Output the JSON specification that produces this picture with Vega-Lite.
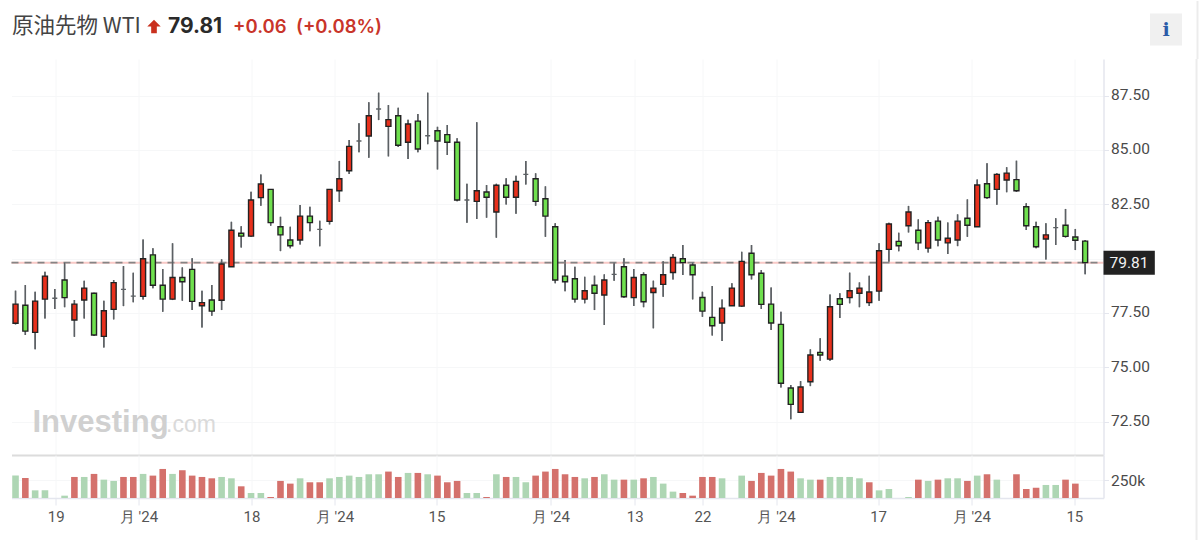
{"$schema":"https://vega.github.io/schema/vega-lite/v6.json","background":"white","padding":{"left":10.5,"top":0,"right":0,"bottom":0},"bounds":"flush","spacing":0,
"config":{"view":{"stroke":null},"axis":{"labelFont":"Roboto","labelFontSize":15.5,"labelColor":"#4a4a4a","tickColor":"#e4e6ee","domainColor":"#e4e6ee","gridColor":"#f6f7f8","title":null}},
"datasets":{"candles":[
{"i":1,"o":77.02,"h":78.52,"l":76.97,"c":77.9,"d":"r"},{"i":2,"o":77.85,"h":78.78,"l":76.48,"c":76.66,"d":"g"},{"i":3,"o":76.6,"h":78.47,"l":75.83,"c":78.04,"d":"r"},{"i":4,"o":78.13,"h":79.39,"l":77.24,"c":79.19,"d":"r"},{"i":5,"o":78.17,"h":78.6,"l":77.68,"c":78.17,"d":"f"},{"i":6,"o":79.01,"h":79.81,"l":77.76,"c":78.2,"d":"g"},{"i":7,"o":77.17,"h":78.09,"l":76.4,"c":77.9,"d":"r"},{"i":8,"o":78.09,"h":78.98,"l":77.24,"c":78.64,"d":"r"},{"i":9,"o":78.4,"h":78.42,"l":76.43,"c":76.48,"d":"g"},{"i":10,"o":76.42,"h":78.06,"l":75.91,"c":77.6,"d":"r"},
{"i":11,"o":77.66,"h":79.01,"l":77.2,"c":78.89,"d":"r"},{"i":12,"o":78.58,"h":79.65,"l":77.81,"c":78.58,"d":"f"},{"i":13,"o":78.27,"h":79.35,"l":77.99,"c":78.27,"d":"f"},{"i":14,"o":78.26,"h":80.88,"l":78.12,"c":79.99,"d":"r"},{"i":15,"o":80.17,"h":80.47,"l":78.63,"c":78.77,"d":"g"},{"i":16,"o":78.77,"h":79.52,"l":77.55,"c":78.13,"d":"g"},{"i":17,"o":78.13,"h":80.7,"l":78.09,"c":79.13,"d":"r"},{"i":18,"o":79.13,"h":79.59,"l":78.06,"c":78.93,"d":"g"},{"i":19,"o":79.5,"h":80.01,"l":77.63,"c":78.03,"d":"g"},{"i":20,"o":77.83,"h":78.52,"l":76.83,"c":77.97,"d":"r"},
{"i":21,"o":78.09,"h":78.78,"l":77.37,"c":77.58,"d":"g"},{"i":22,"o":78.08,"h":79.96,"l":77.63,"c":79.75,"d":"r"},{"i":23,"o":79.62,"h":81.69,"l":79.61,"c":81.3,"d":"r"},{"i":24,"o":81.16,"h":81.48,"l":80.51,"c":81.03,"d":"g"},{"i":25,"o":81.03,"h":83.07,"l":81.0,"c":82.69,"d":"r"},{"i":26,"o":82.8,"h":83.87,"l":82.43,"c":83.43,"d":"r"},{"i":27,"o":83.18,"h":83.2,"l":81.51,"c":81.65,"d":"g"},{"i":28,"o":81.46,"h":81.92,"l":80.34,"c":81.09,"d":"g"},{"i":29,"o":80.85,"h":81.46,"l":80.47,"c":80.59,"d":"g"},{"i":30,"o":80.85,"h":82.46,"l":80.65,"c":81.95,"d":"r"},
{"i":31,"o":81.95,"h":82.38,"l":81.26,"c":81.65,"d":"g"},{"i":32,"o":81.34,"h":81.74,"l":80.57,"c":81.34,"d":"f"},{"i":33,"o":81.71,"h":83.2,"l":81.57,"c":83.18,"d":"r"},{"i":34,"o":83.12,"h":84.49,"l":82.61,"c":83.67,"d":"r"},{"i":35,"o":84.04,"h":85.45,"l":83.89,"c":85.16,"d":"r"},{"i":36,"o":85.41,"h":86.22,"l":84.89,"c":85.41,"d":"f"},{"i":37,"o":85.64,"h":87.19,"l":84.64,"c":86.57,"d":"r"},{"i":38,"o":86.88,"h":87.63,"l":86.37,"c":86.88,"d":"f"},{"i":39,"o":86.08,"h":87.06,"l":84.7,"c":86.39,"d":"r"},{"i":40,"o":86.57,"h":86.94,"l":85.13,"c":85.21,"d":"g"},
{"i":41,"o":85.35,"h":86.39,"l":84.58,"c":86.19,"d":"r"},{"i":42,"o":86.32,"h":86.65,"l":84.89,"c":85.04,"d":"g"},{"i":43,"o":85.65,"h":87.63,"l":85.26,"c":85.65,"d":"f"},{"i":44,"o":85.88,"h":86.06,"l":84.1,"c":85.41,"d":"g"},{"i":45,"o":85.7,"h":86.14,"l":84.76,"c":85.35,"d":"g"},{"i":46,"o":85.35,"h":85.53,"l":82.63,"c":82.69,"d":"g"},{"i":47,"o":82.69,"h":83.44,"l":81.65,"c":82.69,"d":"f"},{"i":48,"o":82.63,"h":86.27,"l":81.82,"c":83.12,"d":"r"},{"i":49,"o":83.06,"h":83.38,"l":81.88,"c":82.82,"d":"g"},{"i":50,"o":82.14,"h":83.44,"l":80.96,"c":83.37,"d":"r"},
{"i":51,"o":83.37,"h":83.69,"l":82.49,"c":82.82,"d":"g"},{"i":52,"o":82.82,"h":83.81,"l":82.06,"c":83.55,"d":"r"},{"i":53,"o":83.87,"h":84.49,"l":83.41,"c":83.87,"d":"f"},{"i":54,"o":83.67,"h":83.92,"l":82.43,"c":82.63,"d":"g"},{"i":55,"o":82.75,"h":83.32,"l":81.0,"c":81.95,"d":"g"},{"i":56,"o":81.46,"h":81.62,"l":78.86,"c":79.01,"d":"g"},{"i":57,"o":79.19,"h":79.93,"l":78.49,"c":78.93,"d":"g"},{"i":58,"o":79.07,"h":79.62,"l":77.98,"c":78.13,"d":"g"},{"i":59,"o":78.13,"h":79.16,"l":77.94,"c":78.52,"d":"r"},{"i":60,"o":78.77,"h":79.21,"l":77.63,"c":78.4,"d":"g"},
{"i":61,"o":78.32,"h":79.27,"l":76.94,"c":79.01,"d":"r"},{"i":62,"o":79.27,"h":79.81,"l":78.98,"c":79.27,"d":"f"},{"i":63,"o":79.62,"h":80.01,"l":78.2,"c":78.24,"d":"g"},{"i":64,"o":78.2,"h":79.52,"l":77.81,"c":79.13,"d":"r"},{"i":65,"o":79.25,"h":79.36,"l":77.76,"c":78.01,"d":"g"},{"i":66,"o":78.44,"h":78.98,"l":76.79,"c":78.64,"d":"r"},{"i":67,"o":78.81,"h":79.88,"l":78.24,"c":79.25,"d":"r"},{"i":68,"o":79.36,"h":80.21,"l":79.04,"c":80.05,"d":"r"},{"i":69,"o":79.99,"h":80.62,"l":79.24,"c":79.81,"d":"g"},{"i":70,"o":79.7,"h":79.81,"l":78.12,"c":79.25,"d":"g"},
{"i":71,"o":78.21,"h":78.47,"l":77.32,"c":77.58,"d":"g"},{"i":72,"o":77.29,"h":78.73,"l":76.46,"c":76.91,"d":"g"},{"i":73,"o":77.03,"h":78.12,"l":76.21,"c":77.72,"d":"r"},{"i":74,"o":77.83,"h":78.86,"l":77.81,"c":78.64,"d":"r"},{"i":75,"o":77.81,"h":80.31,"l":77.78,"c":79.87,"d":"r"},{"i":76,"o":80.24,"h":80.62,"l":79.04,"c":79.25,"d":"g"},{"i":77,"o":79.32,"h":79.47,"l":77.68,"c":77.89,"d":"g"},{"i":78,"o":77.9,"h":78.67,"l":76.71,"c":77.03,"d":"g"},{"i":79,"o":76.97,"h":77.55,"l":74.07,"c":74.26,"d":"g"},{"i":80,"o":74.04,"h":74.18,"l":72.6,"c":73.29,"d":"g"},
{"i":81,"o":72.92,"h":74.36,"l":72.9,"c":74.09,"d":"r"},{"i":82,"o":74.33,"h":75.82,"l":74.13,"c":75.56,"d":"r"},{"i":83,"o":75.68,"h":76.33,"l":75.3,"c":75.56,"d":"g"},{"i":84,"o":75.37,"h":78.35,"l":75.3,"c":77.78,"d":"r"},{"i":85,"o":78.15,"h":78.4,"l":77.26,"c":77.89,"d":"g"},{"i":86,"o":78.2,"h":79.35,"l":77.94,"c":78.52,"d":"r"},{"i":87,"o":78.4,"h":78.9,"l":77.76,"c":78.64,"d":"r"},{"i":88,"o":77.97,"h":79.21,"l":77.81,"c":78.46,"d":"r"},{"i":89,"o":78.5,"h":80.7,"l":78.06,"c":80.36,"d":"r"},{"i":90,"o":80.42,"h":81.65,"l":79.85,"c":81.59,"d":"r"},
{"i":91,"o":80.79,"h":81.19,"l":80.34,"c":80.59,"d":"g"},{"i":92,"o":81.51,"h":82.42,"l":81.2,"c":82.14,"d":"r"},{"i":93,"o":81.3,"h":81.8,"l":80.39,"c":80.72,"d":"g"},{"i":94,"o":80.48,"h":81.77,"l":80.28,"c":81.65,"d":"r"},{"i":95,"o":81.72,"h":81.92,"l":80.57,"c":80.85,"d":"g"},{"i":96,"o":80.72,"h":81.66,"l":80.21,"c":80.93,"d":"r"},{"i":97,"o":80.85,"h":82.03,"l":80.57,"c":81.72,"d":"r"},{"i":98,"o":81.85,"h":82.72,"l":81.0,"c":81.53,"d":"g"},{"i":99,"o":81.46,"h":83.64,"l":81.45,"c":83.38,"d":"r"},{"i":100,"o":83.44,"h":84.38,"l":82.75,"c":82.8,"d":"g"},
{"i":101,"o":83.18,"h":83.92,"l":82.47,"c":83.87,"d":"r"},{"i":102,"o":83.61,"h":84.2,"l":83.05,"c":83.93,"d":"r"},{"i":103,"o":83.63,"h":84.5,"l":83.06,"c":83.12,"d":"g"},{"i":104,"o":82.38,"h":82.54,"l":81.31,"c":81.51,"d":"g"},{"i":105,"o":81.46,"h":81.69,"l":80.47,"c":80.54,"d":"g"},{"i":106,"o":80.9,"h":81.62,"l":79.96,"c":81.09,"d":"r"},{"i":107,"o":81.42,"h":81.85,"l":80.62,"c":81.42,"d":"f"},{"i":108,"o":81.53,"h":82.28,"l":80.97,"c":81.02,"d":"g"},{"i":109,"o":80.99,"h":81.36,"l":80.39,"c":80.84,"d":"g"},{"i":110,"o":80.8,"h":80.85,"l":79.28,"c":79.81,"d":"g"}
],
"volume":[
{"i":1,"v":316000,"d":"g"},{"i":2,"v":283000,"d":"r"},{"i":3,"v":108000,"d":"g"},{"i":4,"v":108000,"d":"g"},{"i":6,"v":33000,"d":"g"},{"i":7,"v":297000,"d":"r"},{"i":8,"v":297000,"d":"g"},{"i":9,"v":340000,"d":"r"},{"i":10,"v":259000,"d":"g"},{"i":11,"v":241000,"d":"g"},{"i":12,"v":297000,"d":"r"},{"i":13,"v":297000,"d":"r"},{"i":14,"v":340000,"d":"g"},{"i":15,"v":316000,"d":"r"},{"i":16,"v":410000,"d":"r"},{"i":17,"v":340000,"d":"g"},{"i":18,"v":392000,"d":"r"},{"i":19,"v":316000,"d":"r"},{"i":20,"v":297000,"d":"r"},{"i":21,"v":278000,"d":"r"},{"i":22,"v":297000,"d":"g"},{"i":23,"v":278000,"d":"g"},{"i":24,"v":165000,"d":"r"},{"i":25,"v":71000,"d":"g"},{"i":26,"v":71000,"d":"g"},{"i":27,"v":14000,"d":"r"},{"i":28,"v":241000,"d":"r"},{"i":29,"v":203000,"d":"r"},{"i":30,"v":278000,"d":"g"},{"i":31,"v":222000,"d":"r"},{"i":32,"v":222000,"d":"r"},{"i":33,"v":278000,"d":"g"},{"i":34,"v":297000,"d":"g"},{"i":35,"v":316000,"d":"g"},{"i":36,"v":297000,"d":"g"},{"i":37,"v":335000,"d":"g"},{"i":38,"v":335000,"d":"g"},{"i":39,"v":373000,"d":"r"},{"i":40,"v":297000,"d":"r"},{"i":41,"v":354000,"d":"g"},{"i":42,"v":354000,"d":"r"},{"i":43,"v":335000,"d":"g"},{"i":44,"v":316000,"d":"r"},{"i":45,"v":222000,"d":"r"},{"i":46,"v":241000,"d":"r"},{"i":47,"v":71000,"d":"g"},{"i":48,"v":71000,"d":"g"},{"i":49,"v":14000,"d":"r"},{"i":50,"v":335000,"d":"g"},{"i":51,"v":297000,"d":"r"},{"i":52,"v":297000,"d":"g"},{"i":53,"v":222000,"d":"g"},{"i":54,"v":316000,"d":"r"},{"i":55,"v":373000,"d":"r"},{"i":56,"v":410000,"d":"r"},{"i":57,"v":335000,"d":"r"},{"i":58,"v":297000,"d":"r"},{"i":59,"v":278000,"d":"g"},{"i":60,"v":297000,"d":"r"},{"i":61,"v":335000,"d":"g"},{"i":62,"v":259000,"d":"g"},{"i":63,"v":259000,"d":"r"},{"i":64,"v":259000,"d":"g"},{"i":65,"v":278000,"d":"r"},{"i":66,"v":297000,"d":"g"},{"i":67,"v":203000,"d":"g"},{"i":68,"v":90000,"d":"g"},{"i":69,"v":71000,"d":"r"},{"i":70,"v":33000,"d":"r"},{"i":71,"v":297000,"d":"r"},{"i":72,"v":297000,"d":"r"},{"i":73,"v":278000,"d":"g"},{"i":75,"v":316000,"d":"g"},{"i":76,"v":241000,"d":"r"},{"i":77,"v":354000,"d":"r"},{"i":78,"v":316000,"d":"r"},{"i":79,"v":410000,"d":"r"},{"i":80,"v":373000,"d":"r"},{"i":81,"v":278000,"d":"g"},{"i":82,"v":259000,"d":"g"},{"i":83,"v":259000,"d":"r"},{"i":84,"v":297000,"d":"g"},{"i":85,"v":297000,"d":"g"},{"i":86,"v":297000,"d":"g"},{"i":87,"v":278000,"d":"g"},{"i":88,"v":222000,"d":"r"},{"i":89,"v":108000,"d":"g"},{"i":90,"v":127000,"d":"g"},{"i":92,"v":14000,"d":"g"},{"i":93,"v":259000,"d":"r"},{"i":94,"v":241000,"d":"g"},{"i":95,"v":259000,"d":"r"},{"i":96,"v":278000,"d":"g"},{"i":97,"v":278000,"d":"g"},{"i":98,"v":241000,"d":"r"},{"i":99,"v":316000,"d":"g"},{"i":100,"v":335000,"d":"r"},{"i":101,"v":259000,"d":"g"},{"i":103,"v":335000,"d":"r"},{"i":104,"v":127000,"d":"r"},{"i":105,"v":146000,"d":"r"},{"i":106,"v":184000,"d":"g"},{"i":107,"v":184000,"d":"g"},{"i":108,"v":259000,"d":"r"},{"i":109,"v":203000,"d":"r"}
],
"last":[{"i0":0.59,"i1":111.87,"i2":117.1,"ix":114.47,"p":79.81,"top":80.36,"bot":79.25,"t":"79.81"}],
"mark":[{"iw":2.73,"ic":16.34,"p":72.43,"t":"Investing","t2":".com"}],
"edge":[{"i":121.35}]},
"vconcat":[
{"width":1188,"height":58,"data":{"values":[{}]},"layer":[
{"mark":{"type":"text","align":"left","baseline":"middle","font":"Noto Sans CJK JP","fontSize":21.5,"color":"#444444"},"encoding":{"x":{"value":0.5},"y":{"value":25.5},"text":{"value":"原油先物 WTI"}}},
{"mark":{"type":"point","filled":true,"size":180,"opacity":1,"color":"#c9301e","shape":"M0,-1 L1,0 L0.42,0 L0.42,1 L-0.42,1 L-0.42,0 L-1,0 Z"},"encoding":{"x":{"value":142.5},"y":{"value":25.5}}},
{"mark":{"type":"text","align":"left","baseline":"middle","font":"Inter","fontWeight":700,"fontSize":21,"color":"#2a2a2a"},"encoding":{"x":{"value":156.5},"y":{"value":25.5},"text":{"value":"79.81"}}},
{"mark":{"type":"text","align":"left","baseline":"middle","font":"Inter","fontWeight":600,"fontSize":18.5,"color":"#c9352a"},"encoding":{"x":{"value":221.5},"y":{"value":25.5},"text":{"value":"+0.06"}}},
{"mark":{"type":"text","align":"left","baseline":"middle","font":"Inter","fontWeight":600,"fontSize":18.5,"color":"#c9352a"},"encoding":{"x":{"value":284.5},"y":{"value":25.5},"text":{"value":"(+0.08%)"}}},
{"mark":{"type":"point","filled":true,"shape":"square","size":1024,"opacity":1,"color":"#f0f0f0"},"encoding":{"x":{"value":1154.5},"y":{"value":28.5}}},
{"mark":{"type":"text","align":"center","baseline":"middle","font":"DejaVu Serif","fontWeight":700,"fontSize":19,"color":"#2b5ba8"},"encoding":{"x":{"value":1154.5},"y":{"value":29},"text":{"value":"i"}}},
{"mark":{"type":"rule","color":"#ececec","strokeWidth":2},"encoding":{"x":{"value":1186}}}
]},
{"width":1092,"height":396,"layer":[
{"data":{"name":"candles"},"mark":{"type":"rule","strokeWidth":1.4,"color":"#5c6064"},"encoding":{
"x":{"field":"i","type":"quantitative","scale":{"domain":[0.59,111.87],"nice":false,"zero":false,"padding":0},"axis":{"values":[5.1,13.53,25.05,33.5,43.9,55.5,64.1,71,78.5,88.9,98.4,108.9],"labels":false,"ticks":false,"grid":true,"domainColor":"#dcdcdc","domainWidth":2}},
"y":{"field":"h","type":"quantitative","scale":{"domain":[70.96,89.18],"nice":false,"zero":false},"axis":{"orient":"right","values":[72.5,75,77.5,80,82.5,85,87.5],"labelExpr":"datum.value === 80 ? '' : format(datum.value, '.2f')","labelOffset":-1,"grid":true,"tickSize":5,"domainWidth":1.5,"labelPadding":2}},
"y2":{"field":"l"}}},
{"data":{"name":"mark"},"mark":{"type":"text","align":"left","baseline":"middle","font":"Liberation Sans","fontWeight":700,"fontSize":31,"color":"#d0d0d0"},"encoding":{"x":{"field":"iw","type":"quantitative"},"y":{"field":"p","type":"quantitative"},"text":{"field":"t"}}},
{"data":{"name":"mark"},"mark":{"type":"text","align":"left","baseline":"middle","font":"Liberation Sans","fontSize":23,"color":"#dadada","dy":2},"encoding":{"x":{"field":"ic","type":"quantitative"},"y":{"field":"p","type":"quantitative"},"text":{"field":"t2"}}},
{"data":{"name":"last"},"mark":{"type":"rule","color":"#f9c9c6","strokeWidth":2},"encoding":{"x":{"field":"i0","type":"quantitative"},"x2":{"field":"i1"},"y":{"field":"p","type":"quantitative"}}},
{"data":{"name":"last"},"mark":{"type":"rule","color":"#858585","strokeWidth":1.6,"strokeDash":[7,6]},"encoding":{"x":{"field":"i0","type":"quantitative"},"x2":{"field":"i1"},"y":{"field":"p","type":"quantitative"}}},
{"data":{"name":"candles"},"mark":{"type":"rule","strokeWidth":1.4,"color":"#5c6064"},"encoding":{"x":{"field":"i","type":"quantitative"},"y":{"field":"h","type":"quantitative"},"y2":{"field":"l"}}},
{"data":{"name":"candles"},"mark":{"type":"bar","size":5,"strokeWidth":1.4},"encoding":{"x":{"field":"i","type":"quantitative"},"y":{"field":"o","type":"quantitative"},"y2":{"field":"c"},
"fill":{"field":"d","type":"nominal","legend":null,"scale":{"domain":["r","g","f"],"range":["#e8301c","#6fe04e","#5c6064"]}},
"stroke":{"field":"d","type":"nominal","legend":null,"scale":{"domain":["r","g","f"],"range":["#222222","#222222","#5c6064"]}}}},
{"data":{"name":"last"},"mark":{"type":"rect","color":"#222222"},"encoding":{"x":{"field":"i1","type":"quantitative"},"x2":{"field":"i2"},"y":{"field":"top","type":"quantitative"},"y2":{"field":"bot"}}},
{"data":{"name":"last"},"mark":{"type":"text","align":"center","baseline":"middle","font":"Roboto","fontSize":15.5,"color":"#f2f2f2"},"encoding":{"x":{"field":"ix","type":"quantitative"},"y":{"field":"p","type":"quantitative"},"text":{"field":"t"}}},
{"data":{"name":"edge"},"mark":{"type":"rule","color":"#ececec","strokeWidth":2},"encoding":{"x":{"field":"i","type":"quantitative"}}}
],"resolve":{"scale":{"fill":"independent","stroke":"independent"}}},
{"width":1092,"height":43,"layer":[
{"data":{"name":"volume"},"mark":{"type":"bar","size":6.6},"encoding":{
"x":{"field":"i","type":"quantitative","scale":{"domain":[0.59,111.87],"nice":false,"zero":false,"padding":0},"axis":{"values":[5.1,13.53,25.05,33.5,43.9,55.5,64.1,71,78.5,88.9,98.4,108.9],"labelExpr":"({'5.1':'19','25.05':'18','43.9':'15','64.1':'13','71':'22','88.9':'17','108.9':'15'})[''+datum.value] || \"月 '24\"","grid":true,"tickSize":7,"domainWidth":1.5,"labelFontSize":15,"labelPadding":4,"labelColor":"#555555"}},
"y":{"field":"v","type":"quantitative","scale":{"domain":[0,607000],"nice":false},"axis":{"orient":"right","values":[250000],"format":"~s","tickSize":5,"domainWidth":1.5,"labelPadding":2}},
"color":{"field":"d","type":"nominal","legend":null,"scale":{"domain":["r","g"],"range":["#d4716c","#aed6b4"]}}}},
{"data":{"name":"edge"},"mark":{"type":"rule","color":"#ececec","strokeWidth":2},"encoding":{"x":{"field":"i","type":"quantitative"},"y":{"value":0},"y2":{"value":85}}}
]}
]}
